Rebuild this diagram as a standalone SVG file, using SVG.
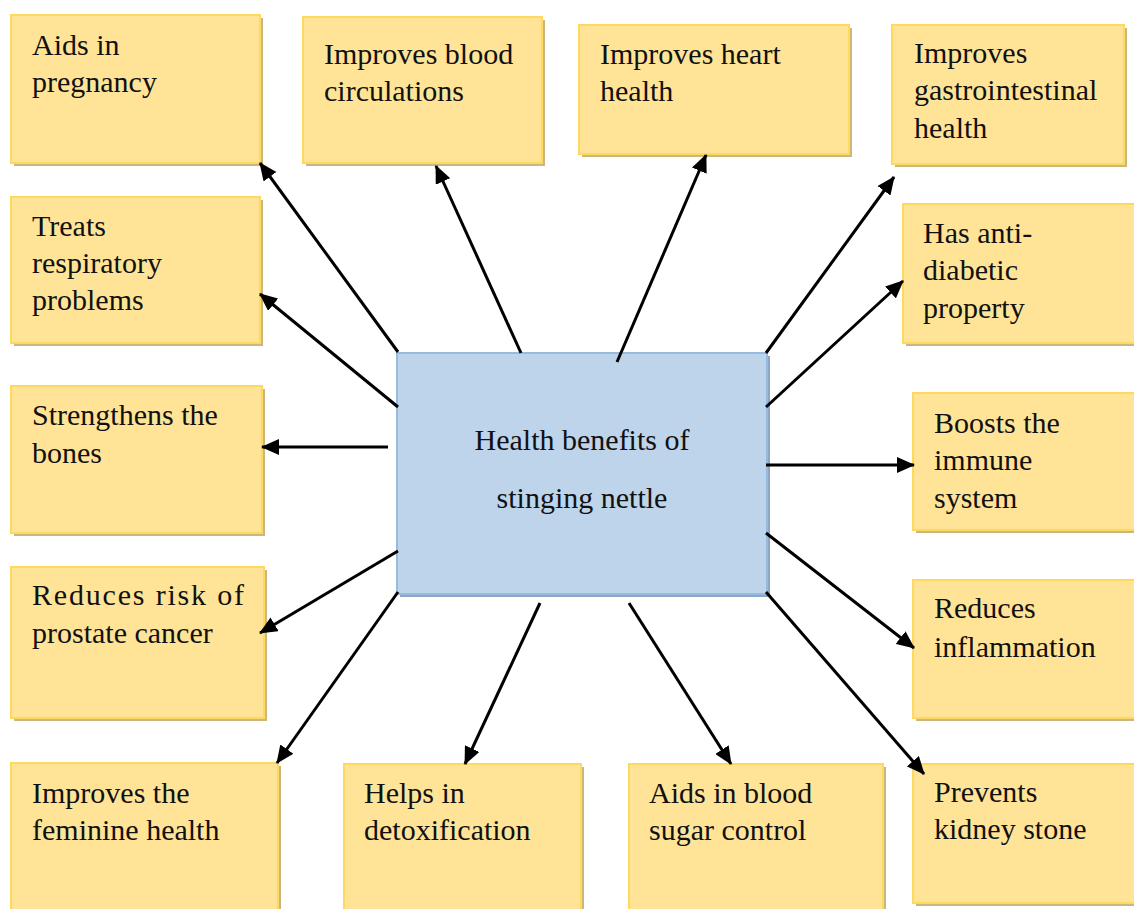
<svg xmlns="http://www.w3.org/2000/svg" width="1134" height="909" viewBox="0 0 1134 909">
<defs>
<style>
.box{fill:#FFE498;stroke:#FFD95E;stroke-width:2}
.sh{fill:#C9B77F}
.cbox{fill:#BED4EB;stroke:#97BADF;stroke-width:2}
.csh{fill:#8CA6C3}
text{font-family:"Liberation Serif","Times New Roman",serif;font-size:30px;fill:#111}
.con line{stroke:#000;stroke-width:3;marker-end:url(#ah)}
</style>
<marker id="ah" markerUnits="userSpaceOnUse" markerWidth="20" markerHeight="16" refX="17" refY="8" orient="auto">
<path d="M0,0 L18,8 L0,16 Z" fill="#000"/>
</marker>
</defs>
<rect width="1134" height="909" fill="#fff"/>

<g id="n-center">
<rect class="csh" x="400" y="356" width="370" height="241"/>
<rect class="cbox" x="397" y="353" width="370" height="241"/>
<text x="582" y="450" text-anchor="middle">Health benefits of</text>
<text x="582" y="508" text-anchor="middle">stinging nettle</text>
</g>

<g id="n-pregnancy">
<rect class="sh" x="14" y="18" width="249" height="148"/>
<rect class="box" x="11" y="15" width="249" height="148"/>
<text x="32" y="55">Aids in</text>
<text x="32" y="92">pregnancy</text>
</g>

<g id="n-circulation">
<rect class="sh" x="306" y="20" width="239" height="146"/>
<rect class="box" x="303" y="17" width="239" height="146"/>
<text x="324" y="64">Improves blood</text>
<text x="324" y="101">circulations</text>
</g>

<g id="n-heart">
<rect class="sh" x="582" y="28" width="270" height="129"/>
<rect class="box" x="579" y="25" width="270" height="129"/>
<text x="600" y="64">Improves heart</text>
<text x="600" y="101">health</text>
</g>

<g id="n-gastro">
<rect class="sh" x="895" y="28" width="232" height="139"/>
<rect class="box" x="892" y="25" width="232" height="139"/>
<text x="914" y="63">Improves</text>
<text x="914" y="100">gastrointestinal</text>
<text x="914" y="138">health</text>
</g>

<g id="n-respiratory">
<rect class="sh" x="14" y="200" width="249" height="146"/>
<rect class="box" x="11" y="197" width="249" height="146"/>
<text x="32" y="236">Treats</text>
<text x="32" y="273">respiratory</text>
<text x="32" y="310">problems</text>
</g>

<g id="n-antidiabetic">
<rect class="sh" x="906" y="207" width="240" height="139"/>
<rect class="box" x="903" y="204" width="240" height="139"/>
<text x="923" y="243">Has anti-</text>
<text x="923" y="280">diabetic</text>
<text x="923" y="318">property</text>
</g>

<g id="n-bones">
<rect class="sh" x="14" y="389" width="251" height="147"/>
<rect class="box" x="11" y="386" width="251" height="147"/>
<text x="32" y="425">Strengthens the</text>
<text x="32" y="463">bones</text>
</g>

<g id="n-immune">
<rect class="sh" x="916" y="396" width="240" height="137"/>
<rect class="box" x="913" y="393" width="240" height="137"/>
<text x="934" y="433">Boosts the</text>
<text x="934" y="470">immune</text>
<text x="934" y="508">system</text>
</g>

<g id="n-prostate">
<rect class="sh" x="14" y="570" width="253" height="151"/>
<rect class="box" x="11" y="567" width="253" height="151"/>
<text x="32" y="605" textLength="212" lengthAdjust="spacing">Reduces risk of</text>
<text x="32" y="643">prostate cancer</text>
</g>

<g id="n-inflammation">
<rect class="sh" x="916" y="583" width="240" height="138"/>
<rect class="box" x="913" y="580" width="240" height="138"/>
<text x="934" y="618">Reduces</text>
<text x="934" y="657">inflammation</text>
</g>

<g id="n-feminine">
<rect class="sh" x="14" y="766" width="267" height="160"/>
<rect class="box" x="11" y="763" width="267" height="160"/>
<text x="32" y="803">Improves the</text>
<text x="32" y="840">feminine health</text>
</g>

<g id="n-detox">
<rect class="sh" x="347" y="767" width="237" height="160"/>
<rect class="box" x="344" y="764" width="237" height="160"/>
<text x="364" y="803">Helps in</text>
<text x="364" y="840">detoxification</text>
</g>

<g id="n-bloodsugar">
<rect class="sh" x="632" y="767" width="254" height="160"/>
<rect class="box" x="629" y="764" width="254" height="160"/>
<text x="649" y="803">Aids in blood</text>
<text x="649" y="840">sugar control</text>
</g>

<g id="n-kidney">
<rect class="sh" x="916" y="767" width="240" height="139"/>
<rect class="box" x="913" y="764" width="240" height="139"/>
<text x="934" y="802">Prevents</text>
<text x="934" y="839">kidney stone</text>
</g>

<g id="connectors" class="con">
<line x1="398" y1="352" x2="260" y2="163"/>
<line x1="521" y1="353" x2="436" y2="166"/>
<line x1="617" y1="362" x2="706" y2="155"/>
<line x1="766" y1="353" x2="894" y2="177"/>
<line x1="398" y1="407" x2="260" y2="294"/>
<line x1="766" y1="407" x2="903" y2="281"/>
<line x1="388" y1="447" x2="262" y2="447"/>
<line x1="766" y1="465" x2="914" y2="465"/>
<line x1="398" y1="551" x2="260" y2="633"/>
<line x1="766" y1="533" x2="914" y2="648"/>
<line x1="398" y1="592" x2="277" y2="763"/>
<line x1="540" y1="603" x2="465" y2="764"/>
<line x1="629" y1="603" x2="731" y2="764"/>
<line x1="766" y1="592" x2="924" y2="774"/>
</g>
</svg>
